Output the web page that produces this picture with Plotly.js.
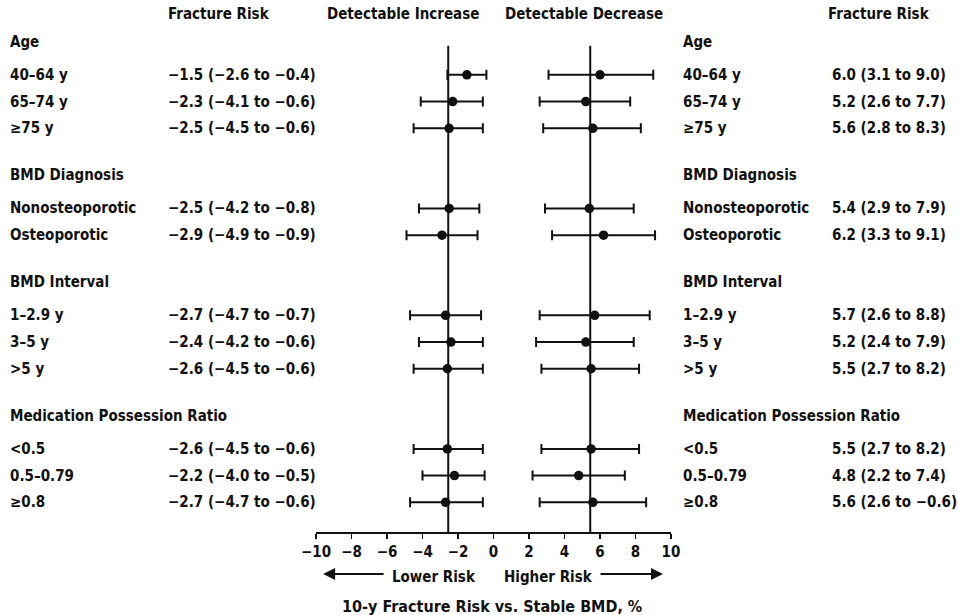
<!DOCTYPE html>
<html>
<head>
<meta charset="utf-8">
<script src="https://cdn.plot.ly/plotly-3.0.1.min.js"></script>
<style>html,body{margin:0;padding:0;background:#fff;}#chart{width:958px;height:615px;}</style>
</head>
<body>
<div id="chart"></div>
<script>
// ---- data ----
const groupTitles = ['Age', 'BMD Diagnosis', 'BMD Interval', 'Medication Possession Ratio'];
const groupSizes = [3, 2, 3, 3];
const rowLabels = ['40–64 y', '65–74 y', '≥75 y', 'Nonosteoporotic', 'Osteoporotic',
  '1–2.9 y', '3–5 y', '&gt;5 y', '&lt;0.5', '0.5–0.79', '≥0.8'];

// Detectable increase in BMD
const incEst = [-1.5, -2.3, -2.5, -2.5, -2.9, -2.7, -2.4, -2.6, -2.6, -2.2, -2.7];
const incLo  = [-2.6, -4.1, -4.5, -4.2, -4.9, -4.7, -4.2, -4.5, -4.5, -4.0, -4.7];
const incHi  = [-0.4, -0.6, -0.6, -0.8, -0.9, -0.7, -0.6, -0.6, -0.6, -0.5, -0.6];
const incText = ['−1.5 (−2.6 to −0.4)', '−2.3 (−4.1 to −0.6)', '−2.5 (−4.5 to −0.6)',
  '−2.5 (−4.2 to −0.8)', '−2.9 (−4.9 to −0.9)', '−2.7 (−4.7 to −0.7)', '−2.4 (−4.2 to −0.6)',
  '−2.6 (−4.5 to −0.6)', '−2.6 (−4.5 to −0.6)', '−2.2 (−4.0 to −0.5)', '−2.7 (−4.7 to −0.6)'];

// Detectable decrease in BMD
const decEst = [6.0, 5.2, 5.6, 5.4, 6.2, 5.7, 5.2, 5.5, 5.5, 4.8, 5.6];
const decLo  = [3.1, 2.6, 2.8, 2.9, 3.3, 2.6, 2.4, 2.7, 2.7, 2.2, 2.6];
const decHi  = [9.0, 7.7, 8.3, 7.9, 9.1, 8.8, 7.9, 8.2, 8.2, 7.4, 8.6];
const decText = ['6.0 (3.1 to 9.0)', '5.2 (2.6 to 7.7)', '5.6 (2.8 to 8.3)',
  '5.4 (2.9 to 7.9)', '6.2 (3.3 to 9.1)', '5.7 (2.6 to 8.8)', '5.2 (2.4 to 7.9)',
  '5.5 (2.7 to 8.2)', '5.5 (2.7 to 8.2)', '4.8 (2.2 to 7.4)', '5.6 (2.6 to −0.6)'];

// overall reference lines
const refLines = [-2.55, 5.45];

const xTicks = [-10, -8, -6, -4, -2, 0, 2, 4, 6, 8, 10];

// ---- layout of rows (row units) ----
const HEAD_GAP = 1.24, GROUP_GAP = 1.76;
const headerY = [], rowY = [];
let cur = 0;
groupSizes.forEach((n, g) => {
  headerY.push(cur);
  let y = cur + HEAD_GAP;
  for (let i = 0; i < n; i++) { rowY.push(y); if (i < n - 1) y += 1; }
  cur = y + GROUP_GAP;
});

const FAM = 'DejaVu Sans Condensed, DejaVu Sans, sans-serif';
const FONT = {family: FAM, size: 15, color: '#111', weight: 'bold'};
const black = '#111';

function ciTrace(est, lo, hi) {
  return {
    type: 'scatter', mode: 'markers', x: est, y: rowY,
    marker: {color: black, size: 9.5},
    error_x: {type: 'data', symmetric: false,
      array: est.map((v, i) => hi[i] - v), arrayminus: est.map((v, i) => v - lo[i]),
      color: black, thickness: 2, width: 5},
    showlegend: false, hoverinfo: 'x'
  };
}

const ann = [];
const LX1 = -0.869, LX2 = -0.4225, RX1 = 1.028, RX2 = 1.448;
function txt(x, y, t, anchor, xref, yref, font) {
  ann.push({x: x, y: y, xref: xref || 'paper', yref: yref || 'y', text: t, showarrow: false,
    xanchor: anchor || 'left', yanchor: 'middle', font: font || FONT});
}
// paper y for outside-plot texts (plot spans pixel 15.3 .. 532)
const py = px => (532 - px) / 516.7;
const headY = py(14);
txt(LX2, headY, 'Fracture Risk', 'left', 'paper', 'paper');
txt(-5.1, headY, 'Detectable Increase', 'center', 'x', 'paper');
txt(5.1, headY, 'Detectable Decrease', 'center', 'x', 'paper');
txt(1.437, headY, 'Fracture Risk', 'left', 'paper', 'paper');
groupTitles.forEach((t, g) => { txt(LX1, headerY[g], t); txt(RX1, headerY[g], t); });
rowLabels.forEach((t, i) => {
  txt(LX1, rowY[i], t); txt(LX2, rowY[i], incText[i]);
  txt(RX1, rowY[i], t); txt(RX2, rowY[i], decText[i]);
});
const arrowTextY = py(577), arrowY = py(574);
txt(-0.87, arrowTextY, 'Lower Risk', 'right', 'x', 'paper');
txt(0.50, arrowTextY, 'Higher Risk', 'left', 'x', 'paper');
txt(-0.1, py(606), '10-y Fracture Risk vs. Stable BMD, %', 'center', 'x', 'paper',
  {family: FAM, size: 16, color: '#111', weight: 'bold'});
ann.push({x: -9.6, y: arrowY, ax: 62, ay: 0, xref: 'x', yref: 'paper', axref: 'pixel', ayref: 'pixel',
  text: '', showarrow: true, arrowhead: 2, arrowsize: 1.2, arrowwidth: 2, arrowcolor: black});
ann.push({x: 9.55, y: arrowY, ax: -64, ay: 0, xref: 'x', yref: 'paper', axref: 'pixel', ayref: 'pixel',
  text: '', showarrow: true, arrowhead: 2, arrowsize: 1.2, arrowwidth: 2, arrowcolor: black});

const yBottom = 18.35, yTop = -1;
const shapes = refLines.map(v => ({type: 'line', xref: 'x', yref: 'y', x0: v, x1: v,
  y0: 0.15, y1: yBottom, line: {color: black, width: 2}, layer: 'below'}));

const layout = {
  width: 958, height: 615,
  margin: {l: 316, r: 287, t: 15.3, b: 83},
  paper_bgcolor: '#fff', plot_bgcolor: '#fff',
  font: FONT,
  xaxis: {range: [-10, 10], tickvals: xTicks, showgrid: false, zeroline: false,
    showline: true, linecolor: black, linewidth: 2, ticks: 'outside', ticklen: 5,
    tickwidth: 1.5, tickcolor: black, ticklabelstandoff: 0,
    tickfont: {family: FAM, size: 15, color: '#111', weight: 'bold'}},
  yaxis: {range: [yBottom, yTop], visible: false, showgrid: false, zeroline: false},
  annotations: ann, shapes: shapes, showlegend: false
};

Plotly.newPlot('chart', [ciTrace(incEst, incLo, incHi), ciTrace(decEst, decLo, decHi)], layout,
  {displayModeBar: false, staticPlot: true});
</script>
</body>
</html>
